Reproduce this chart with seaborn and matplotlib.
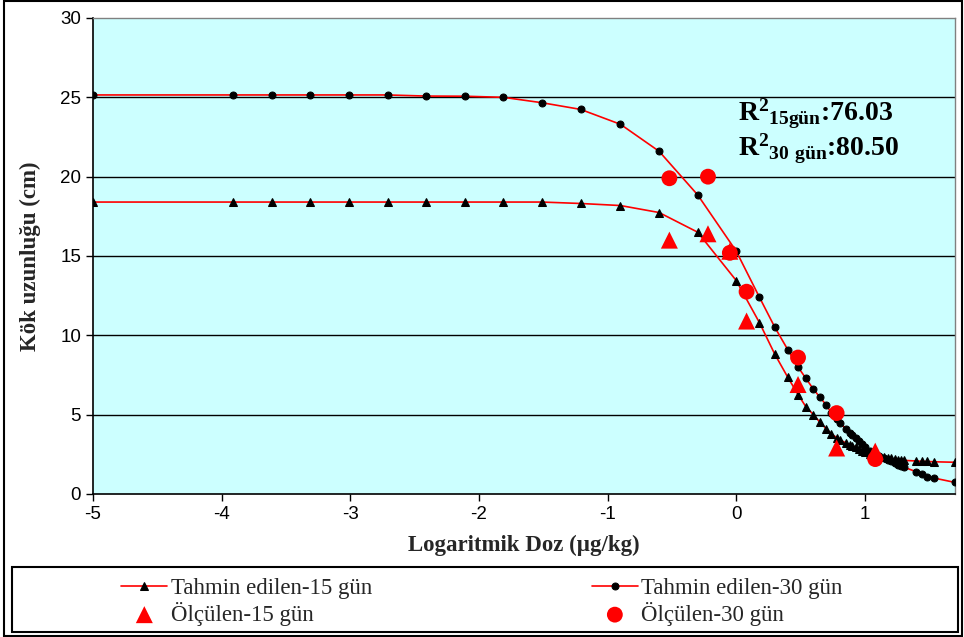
import numpy as np
import pandas as pd
import matplotlib
matplotlib.use('Agg')
import matplotlib.pyplot as plt
import seaborn as sns
from matplotlib.patches import Rectangle

# Tahmin edilen egriler (log doz)
log_doz = [-5.0, -3.91, -3.61, -3.31, -3.01, -2.71, -2.41, -2.11, -1.81, -1.51,
           -1.21, -0.90, -0.60, -0.30, 0.0, 0.18, 0.30, 0.40, 0.48, 0.54,
           0.60, 0.65, 0.70, 0.74, 0.78, 0.81, 0.85, 0.88, 0.90, 0.93,
           0.95, 0.98, 1.00, 1.04, 1.08, 1.11, 1.15, 1.18, 1.20, 1.23,
           1.26, 1.28, 1.30, 1.40, 1.44, 1.48, 1.54, 1.70]
tahmin_15 = [18.4, 18.4, 18.4, 18.4, 18.4, 18.4, 18.4, 18.4, 18.4, 18.4,
             18.31, 18.18, 17.74, 16.5, 13.45, 10.8, 8.8, 7.36, 6.27, 5.51,
             5.0, 4.52, 4.1, 3.79, 3.55, 3.4, 3.22, 3.1, 3.05, 2.95,
             2.85, 2.73, 2.65, 2.55, 2.45, 2.38, 2.32, 2.27, 2.24, 2.2,
             2.17, 2.14, 2.12, 2.08, 2.06, 2.05, 2.03, 2.0]
tahmin_30 = [25.15, 25.15, 25.15, 25.15, 25.15, 25.15, 25.08, 25.07, 25.0, 24.66,
             24.24, 23.3, 21.6, 18.85, 15.3, 12.4, 10.5, 9.1, 8.0, 7.3,
             6.6, 6.1, 5.6, 5.1, 4.75, 4.5, 4.1, 3.85, 3.7, 3.5,
             3.35, 3.15, 2.95, 2.73, 2.55, 2.42, 2.28, 2.15, 2.05, 1.95,
             1.85, 1.78, 1.7, 1.4, 1.28, 1.1, 1.0, 0.73]

# Olculen degerler
olcum_doz = [-0.52, -0.22, -0.05, 0.08, 0.48, 0.78, 1.08]
olcum_15 = [16.0, 16.4, 15.3, 10.9, 6.9, 2.9, 2.7]
olcum_30 = [19.9, 20.0, 15.2, 12.75, 8.6, 5.1, 2.2]

sns.set_style('white')
plt.rcParams['font.family'] = ['Liberation Sans', 'DejaVu Sans']
plt.rcParams['axes.unicode_minus'] = False
plt.rcParams['mathtext.fontset'] = 'custom'
plt.rcParams['mathtext.rm'] = 'Liberation Serif'
plt.rcParams['mathtext.bf'] = 'Liberation Serif:bold'

fig = plt.figure(figsize=(9.64, 6.37), dpi=100)
ax = fig.add_axes([93/964, 1 - 494/637, (955 - 93)/964, (494 - 18)/637])
ax.set_facecolor('#CCFFFF')

sns.lineplot(x=log_doz, y=tahmin_15, color='red', lw=1.2, marker='^', markersize=6,
             markerfacecolor='black', markeredgecolor='black', ax=ax,
             label='Tahmin edilen-15 gün', zorder=3)
sns.scatterplot(x=olcum_doz, y=olcum_15, color='red', marker='^', s=150,
                edgecolor='none', ax=ax, label='Ölçülen-15 gün', zorder=4)
sns.lineplot(x=log_doz, y=tahmin_30, color='red', lw=1.2, marker='o', markersize=5,
             markerfacecolor='black', markeredgecolor='black', ax=ax,
             label='Tahmin edilen-30 gün', zorder=3)
sns.scatterplot(x=olcum_doz, y=olcum_30, color='red', marker='o', s=130,
                edgecolor='none', ax=ax, label='Ölçülen-30 gün', zorder=4)

ax.set_xlim(-5, 1.7)
ax.set_ylim(0, 30)
ax.set_xticks(range(-5, 2))
ax.set_yticks(range(0, 31, 5))
for y in range(5, 30, 5):
    ax.axhline(y, color='black', lw=1, zorder=1)
ax.tick_params(axis='both', direction='out', length=5, width=1, colors='black',
               labelsize=13.5, bottom=True, left=True)
for s in ['left', 'bottom']:
    ax.spines[s].set_color('black')
    ax.spines[s].set_linewidth(1.2)
for s in ['top', 'right']:
    ax.spines[s].set_color('#808080')
    ax.spines[s].set_linewidth(1)

ax.set_xlabel('Logaritmik Doz (µg/kg)', fontsize=16.5, fontweight='bold',
              family='Liberation Serif', labelpad=9)
ax.set_ylabel('Kök uzunluğu (cm)', fontsize=16.5, fontweight='bold',
              family='Liberation Serif', labelpad=14)

# R2 degerleri
ax.text(0.748, 0.785, r'$\mathbf{R^{2}{}_{15gün}}$:76.03', transform=ax.transAxes,
        fontsize=20, fontweight='bold', family='Liberation Serif', color='black')
ax.text(0.748, 0.71, r'$\mathbf{R^{2}{}_{30\ gün}}$:80.50', transform=ax.transAxes,
        fontsize=20, fontweight='bold', family='Liberation Serif', color='black')

handles, labels = ax.get_legend_handles_labels()
ax.get_legend().remove()
fig.legend(handles, labels, loc='center', bbox_to_anchor=(482/964, 1 - 602/637),
           ncol=2, frameon=False, prop={'family': 'Liberation Serif', 'size': 16.5},
           handlelength=2.0, handletextpad=0.15, columnspacing=9.6, labelspacing=0.1)

fig.patches.append(Rectangle((12/964, 1 - 632/637), 946/964, 65/637, fill=False,
                             edgecolor='black', lw=1.5, transform=fig.transFigure))
fig.patches.append(Rectangle((4/964, 1/637), 958/964, 635/637, fill=False,
                             edgecolor='black', lw=1.5, transform=fig.transFigure))

fig.savefig('out.png', dpi=100)
